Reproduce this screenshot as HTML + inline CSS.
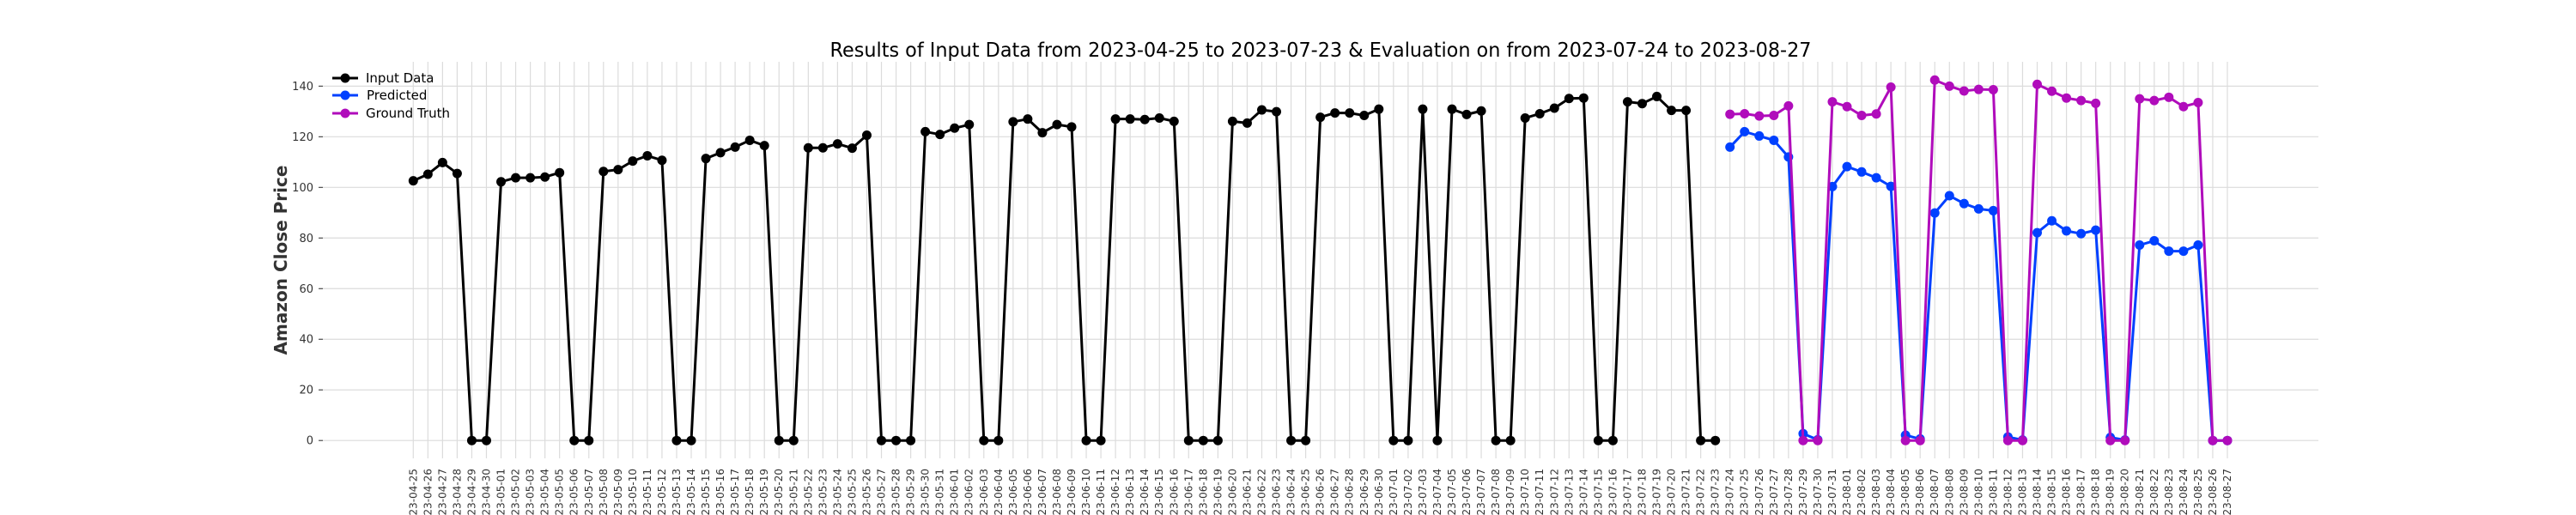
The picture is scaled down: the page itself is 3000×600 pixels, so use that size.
<!DOCTYPE html>
<html><head><meta charset="utf-8"><style>
html,body{margin:0;padding:0;background:#fff;}
svg{display:block;font-family:"DejaVu Sans","Liberation Sans",sans-serif;}
</style></head><body>
<svg id="chart" width="3000" height="600" viewBox="0 0 3000 600" xmlns="http://www.w3.org/2000/svg">
<text x="1538" y="66" text-anchor="middle" font-size="23" fill="#000" textLength="1143" lengthAdjust="spacingAndGlyphs">Results of Input Data from 2023-04-25 to 2023-07-23 &amp; Evaluation on from 2023-07-24 to 2023-08-27</text>
<text transform="translate(334,303) rotate(-90)" text-anchor="middle" font-size="20" font-weight="bold" fill="#333">Amazon Close Price</text>
<g id="grid"></g>
<g id="yaxis"></g>
<g id="xaxis"></g>
<g id="series"></g>
<g font-size="15" fill="#000">
  <g>
    <line x1="387" y1="91" x2="417" y2="91" stroke="#000" stroke-width="3"/><circle cx="402" cy="91" r="5.5" fill="#000"/>
    <text x="426" y="96">Input Data</text></g>
  <g>
    <line x1="387" y1="111" x2="417" y2="111" stroke="#0040ff" stroke-width="3"/><circle cx="402" cy="111" r="5.5" fill="#0040ff"/>
    <text x="427" y="116">Predicted</text></g>
  <g>
    <line x1="387" y1="132" x2="417" y2="132" stroke="#b00cbb" stroke-width="3"/><circle cx="402" cy="132" r="5.5" fill="#b00cbb"/>
    <text x="426" y="137">Ground Truth</text></g>
</g>
</svg>
<script>
const inputValues = [102.6,105.2,109.8,105.5,0,0,102.2,103.8,103.8,104.1,105.8,0,0,106.3,107.0,110.4,112.5,110.7,0,0,111.4,113.7,115.9,118.6,116.5,0,0,115.6,115.6,117.2,115.5,120.6,0,0,0,122.0,120.9,123.4,124.8,0,0,125.9,127.0,121.6,124.8,123.9,0,0,127.0,127.0,126.8,127.4,126.1,0,0,0,126.1,125.4,130.6,129.9,0,0,127.7,129.4,129.4,128.4,130.9,0,0,130.9,0,130.9,128.8,130.2,0,0,127.4,129.1,131.3,135.1,135.3,0,0,133.8,133.1,135.9,130.4,130.4,0,0];
const predictedValues = [115.9,122.0,120.3,118.6,112.0,2.7,0.3,100.3,108.2,106.1,103.8,100.4,2.1,0.6,89.9,96.7,93.6,91.5,90.8,1.4,0.2,82.1,86.8,82.8,81.7,83.1,1.2,0.2,77.2,78.9,74.8,74.8,77.2,0,0];
const groundTruthValues = [128.9,129.1,128.2,128.4,132.2,0,0,133.8,131.9,128.4,129.0,139.6,0,0,142.4,140.0,138.1,138.7,138.6,0,0,140.7,138.0,135.3,134.3,133.2,0,0,135.0,134.3,135.6,131.9,133.5,0,0];
const yTicks = [0,20,40,60,80,100,120,140];
const startDate = "2023-04-25";
const NS = "http://www.w3.org/2000/svg";
function mk(tag, attrs, parent){const e=document.createElementNS(NS,tag);for(const k in attrs)e.setAttribute(k,attrs[k]);parent.appendChild(e);return e;}
const categories = [];
(function(){const d=new Date(startDate+"T00:00:00Z");const n=inputValues.length+predictedValues.length;for(let i=0;i<n;i++){const c=new Date(d.getTime()+i*86400000);categories.push(c.toISOString().slice(0,10));}})();
const X0=481.3, X1=2594, Y0=513.2, YPER=2.949;
const xs = i => X0 + i*(X1-X0)/(categories.length-1);
const ys = v => Y0 - v*YPER;
const grid=document.getElementById('grid'), yaxis=document.getElementById('yaxis'), xaxis=document.getElementById('xaxis'), series=document.getElementById('series');
yTicks.forEach(t=>{
  const l=mk('line',{x1:372,x2:2700,y1:ys(t),y2:ys(t),stroke:'#dcdcdc','stroke-width':1.2},grid);
  
  
  const tk=mk('line',{x1:371,x2:376,y1:ys(t),y2:ys(t),stroke:'#333','stroke-width':1},yaxis);
  
  
  const tx=mk('text',{x:365,y:ys(t)+4.5,'text-anchor':'end','font-size':13,fill:'#333'},yaxis);
  
  
  tx.textContent=t;
});
categories.forEach((c,i)=>{
  const x=xs(i);
  const l=mk('line',{x1:x,x2:x,y1:72,y2:534,stroke:'#dcdcdc','stroke-width':1.2},grid);
  
  
  const tx=mk('text',{transform:`translate(${x+4},546) rotate(-90)`,'text-anchor':'end','font-size':12,fill:'#333'},xaxis);
  
  
  tx.textContent=c;
});
function drawSeries(vals, offset, color, name){
  const g=mk('g',{},series);
  
  
  const pts=vals.map((v,i)=>xs(i+offset).toFixed(2)+','+ys(v).toFixed(2)).join(' ');
  const pl=mk('polyline',{points:pts,fill:'none',stroke:color,'stroke-width':3,'stroke-linejoin':'round'},g);
  
  
  vals.forEach((v,i)=>{
    const c=mk('circle',{cx:xs(i+offset),cy:ys(v),r:5.5,fill:color},g);
    
    
  });
}
drawSeries(inputValues,0,'#000','input-data-series');
drawSeries(predictedValues,inputValues.length,'#0040ff','predicted-series');
drawSeries(groundTruthValues,inputValues.length,'#b00cbb','ground-truth-series');
</script>
</body></html>
